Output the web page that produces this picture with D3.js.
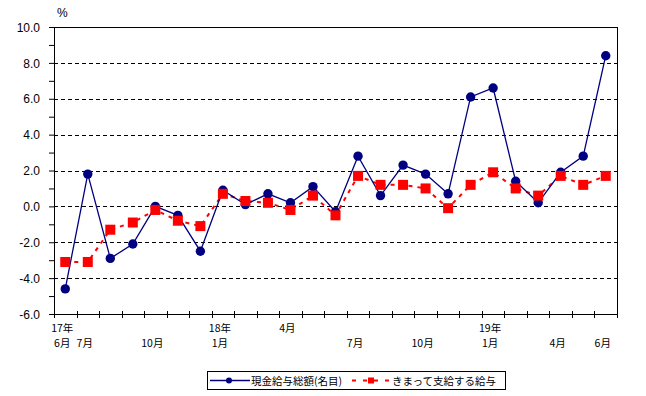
<!DOCTYPE html>
<html>
<head>
<meta charset="utf-8">
<script src="https://cdn.jsdelivr.net/npm/d3@7"></script>
<style>
  body { margin: 0; background: #fff; }
  svg { display: block; }
  .ylab { font-family: "Liberation Sans", Arial, sans-serif; font-size: 12px; }
  .jp { font-family: "Noto Sans CJK JP", sans-serif; font-size: 10.5px; }
</style>
</head>
<body>
<div id="plot"></div>
<script>
// months 2017/6 .. 2019/6
const months = ["2017-06","2017-07","2017-08","2017-09","2017-10","2017-11","2017-12",
  "2018-01","2018-02","2018-03","2018-04","2018-05","2018-06","2018-07","2018-08","2018-09",
  "2018-10","2018-11","2018-12","2019-01","2019-02","2019-03","2019-04","2019-05","2019-06"];

// 現金給与総額(名目)
const totalPay = [-4.6, 1.8, -2.9, -2.1, 0.0, -0.5, -2.5, 0.9, 0.1, 0.7, 0.2, 1.1, -0.3,
  2.8, 0.6, 2.3, 1.8, 0.7, 6.1, 6.6, 1.4, 0.2, 1.9, 2.8, 8.4];

// きまって支給する給与
const regularPay = [-3.1, -3.1, -1.3, -0.9, -0.2, -0.8, -1.1, 0.7, 0.3, 0.2, -0.2, 0.6, -0.5,
  1.7, 1.2, 1.2, 1.0, -0.1, 1.2, 1.9, 1.0, 0.6, 1.7, 1.2, 1.7];

// tick label rows (upper / lower)
const labelTop = ["17年","","","","","","","18年","","","4月","","","","","","","","","19年","","","","",""];
const labelBottom = ["6月","7月","","","10月","","","1月","","","","","","7月","","","10月","","","1月","","","4月","","6月"];

const yTicks = [-6, -4, -2, 0, 2, 4, 6, 8, 10];
const seriesNames = ["現金給与総額(名目)", "きまって支給する給与"];

const W = 646, H = 396;
const margin = {top: 27, right: 29, bottom: 82, left: 54};
const width = W - margin.left - margin.right,
      height = H - margin.top - margin.bottom;

const svg = d3.select("#plot").append("svg")
    .attr("width", W).attr("height", H);
const g = svg.append("g")
    .attr("transform", `translate(${margin.left},${margin.top})`);

const x = d3.scaleBand().domain(months).range([0, width]);
const y = d3.scaleLinear().domain([-6, 10]).range([height, 0]);
const cx = d => x(d) + x.bandwidth() / 2;

// gridlines
g.selectAll("line.grid")
  .data(yTicks.filter(t => t > -6 && t < 10))
  .join("line")
    .attr("x1", 0).attr("x2", width)
    .attr("y1", d => Math.round(y(d)) + 0.5).attr("y2", d => Math.round(y(d)) + 0.5)
    .attr("stroke", "#000").attr("stroke-dasharray", "4,3");

// frame top & right
g.append("line").attr("x1", 0).attr("x2", width + 0.5).attr("y1", 0.5).attr("y2", 0.5)
  .attr("stroke", "#000");
g.append("line").attr("x1", width + 0.5).attr("x2", width + 0.5).attr("y1", 0).attr("y2", height)
  .attr("stroke", "#000");

// y axis
const yAxis = g.append("g")
  .call(d3.axisLeft(y).tickValues(d3.range(-6, 10.01, 1)).tickSize(5)
    .tickFormat(d => d % 2 === 0 ? d.toFixed(1).replace("-", "-") : ""));
yAxis.select(".domain").remove();
yAxis.append("line").attr("x1", 0.5).attr("x2", 0.5).attr("y1", 0).attr("y2", height).attr("stroke", "#000");
yAxis.selectAll("text").attr("class", "ylab").attr("fill", "#000").attr("x", -14).attr("dy", "0.35em");

// x axis
const xAxis = g.append("g").attr("transform", `translate(0,${height})`);
xAxis.append("line").attr("x1", 0).attr("x2", width).attr("y1", 0.5).attr("y2", 0.5).attr("stroke", "#000");
xAxis.selectAll("line.tk")
  .data(months.concat(["end"]))
  .join("line")
    .attr("x1", (d, i) => Math.round(i * x.bandwidth()) + 0.5)
    .attr("x2", (d, i) => Math.round(i * x.bandwidth()) + 0.5)
    .attr("y1", -3).attr("y2", 4).attr("stroke", "#000");

xAxis.selectAll("text.top")
  .data(months)
  .join("text")
    .attr("class", "jp")
    .attr("x", d => cx(d) - 3).attr("y", 18)
    .attr("text-anchor", "middle")
    .text((d, i) => labelTop[i]);
xAxis.selectAll("text.bot")
  .data(months)
  .join("text")
    .attr("class", "jp")
    .attr("x", d => cx(d) - 3).attr("y", 33)
    .attr("text-anchor", "middle")
    .text((d, i) => labelBottom[i]);

g.append("text").attr("class", "ylab").attr("font-size", 11)
  .attr("x", 3).attr("y", -10).text("%");

// red series: dashed line + squares
const lineRed = d3.line().x((d, i) => cx(months[i])).y(d => y(d));
g.append("path").datum(regularPay)
  .attr("d", lineRed).attr("fill", "none")
  .attr("stroke", "#ff0000").attr("stroke-width", 2).attr("stroke-dasharray", "4,5");

// blue series
const lineBlue = d3.line().x((d, i) => cx(months[i])).y(d => y(d));
g.append("path").datum(totalPay)
  .attr("d", lineBlue).attr("fill", "none")
  .attr("stroke", "#000080").attr("stroke-width", 1.3);
g.selectAll("circle.tp").data(totalPay).join("circle")
  .attr("cx", (d, i) => cx(months[i])).attr("cy", d => y(d))
  .attr("r", 4.7).attr("fill", "#000080");

g.selectAll("rect.rp").data(regularPay).join("rect")
  .attr("x", (d, i) => cx(months[i]) - 5).attr("y", d => y(d) - 5)
  .attr("width", 10).attr("height", 10).attr("fill", "#ff0000");

// legend
const lg = svg.append("g").attr("transform", "translate(207,371)");
lg.append("rect").attr("x", 0.5).attr("y", 0.5).attr("width", 298).attr("height", 18)
  .attr("fill", "#fff").attr("stroke", "#000");
lg.append("line").attr("x1", 3).attr("x2", 43).attr("y1", 9.5).attr("y2", 9.5)
  .attr("stroke", "#000080").attr("stroke-width", 1.3);
lg.append("circle").attr("cx", 22).attr("cy", 9.5).attr("r", 3).attr("fill", "#000080");
lg.append("text").attr("class", "jp").attr("font-size", 11).attr("x", 44).attr("y", 13.5).text(seriesNames[0]);
lg.append("line").attr("x1", 145).attr("x2", 185).attr("y1", 9.5).attr("y2", 9.5)
  .attr("stroke", "#ff0000").attr("stroke-width", 2).attr("stroke-dasharray", "4,7");
lg.append("rect").attr("x", 161).attr("y", 6.5).attr("width", 6).attr("height", 6).attr("fill", "#ff0000");
lg.append("text").attr("class", "jp").attr("font-size", 11).attr("x", 185).attr("y", 13.5).text(seriesNames[1]);
</script>
</body>
</html>
